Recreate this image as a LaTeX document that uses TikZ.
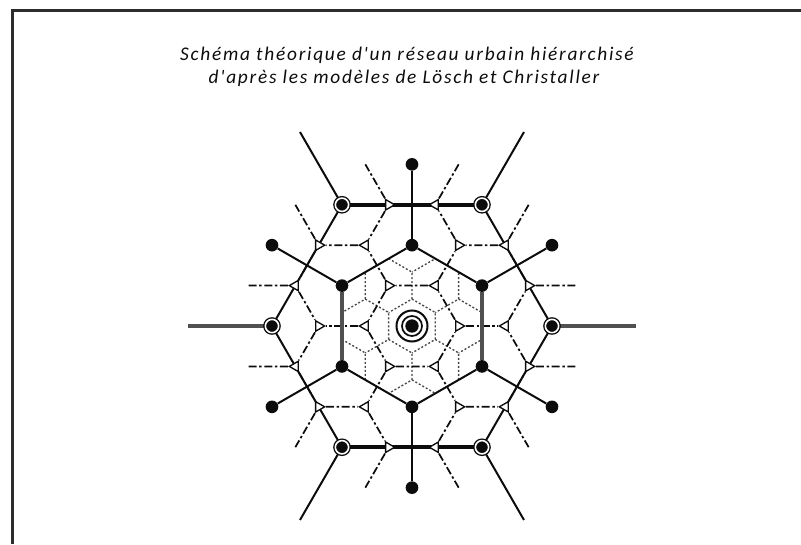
\documentclass[tikz,border=0pt]{standalone}
\usepackage{fontspec}
\setmainfont{Carlito}
\newfontfamily\titlefont[LetterSpace=9]{Carlito}
\usetikzlibrary{shapes.geometric,backgrounds}
\definecolor{Ink}{RGB}{12,12,12}
\definecolor{Frame}{RGB}{45,45,45}
\definecolor{Dim}{RGB}{80,80,80}
\definecolor{Faint}{RGB}{70,70,70}
\tikzset{
  road/.style={draw=Ink,line width=1.5pt},
  mainroad/.style={draw=Ink,line width=3.2pt},
  grayroad/.style={draw=Dim,line width=2.6pt},
  limit/.style={draw=Ink,line width=1.3pt,dash pattern=on 6pt off 2pt on 1.8pt off 2pt},
  mesh/.style={draw=Faint,line width=1pt,dash pattern=on 1.5pt off 1.5pt},
  hub/.style={circle,fill=Ink,inner sep=0pt,minimum size=10pt},
  town/.style={circle,draw=Ink,fill=Ink,double=white,double distance=1.2pt,line width=1pt,inner sep=0pt,minimum size=10pt},
  village/.style={circle,fill=Ink,inner sep=0pt,minimum size=9.5pt},
  hamlet/.style={regular polygon,regular polygon sides=3,draw=Ink,fill=white,line width=1pt,inner sep=0pt,minimum size=9pt},
  heading/.style={font=\titlefont\itshape\fontsize{14.5}{17}\selectfont,text=Ink}
}
\begin{document}
\begin{tikzpicture}[x=0.75pt,y=0.75pt]
  \useasboundingbox (-412,-218) rectangle (389,326);
  \draw[draw=Frame,line width=1.6pt] (389,315.5) -- (-399.5,315.5) -- (-399.5,-218);
  \node[heading] (line1) at (-5,271) {Schéma théorique d'un réseau urbain hiérarchisé};
  \node[heading] (line2) at (-8,248) {d'après les modèles de Lösch et Christaller};
  \node[hub] (hub) at (0,0) {};
  \foreach \k in {0,...,5}{
    \node[town] (town\k) at (60*\k:140) {};
    \node[village] (vin\k) at (60*\k+30:80.83) {};
    \node[village] (vout\k) at (60*\k+30:161.66) {};
    \node[hamlet,rotate=60*\k-90] (ha\k) at (60*\k:46.67) {};
    \node[hamlet,rotate=60*\k+90] (hb\k) at (60*\k:93.33) {};
    \node[hamlet,rotate=60*\k-90] (hc\k) at (60*\k+19.107:123.47) {};
    \node[hamlet,rotate=60*\k+90] (hd\k) at (60*\k+40.893:123.47) {};
    \coordinate (ec\k) at (60*\k+13.898:168.27);
    \coordinate (ed\k) at (60*\k+46.102:168.27);
    \coordinate (ray\k) at (60*\k:224);
  }
  \begin{scope}[on background layer]
    \begin{scope}
      \clip (30:80.83) -- (90:80.83) -- (150:80.83) -- (210:80.83) -- (270:80.83) -- (330:80.83) -- cycle;
      \foreach \i in {-3,...,3}
        \foreach \j in {-3,...,3}
          \draw[mesh] (\i*46.667+\j*23.333,\j*40.415) ++(-30:26.94) -- ++(0,26.94) -- ++(150:26.94) -- ++(210:26.94);
    \end{scope}
    \foreach \k/\n in {0/1,1/2,2/3,3/4,4/5,5/0}{
      \draw[limit] (ha\k) -- (ha\n);
      \draw[limit] (ha\k) -- (hb\k);
      \draw[limit] (hb\k) -- (hc\k) -- (hd\k) -- (hb\n);
      \draw[limit] (hc\k) -- (ec\k);
      \draw[limit] (hd\k) -- (ed\k);
    }
    \foreach \k/\n/\rim/\inner/\out in {0/1/road/road/grayroad,1/2/mainroad/road/road,2/3/road/grayroad/road,3/4/road/road/grayroad,4/5/mainroad/road/road,5/0/road/grayroad/road}{
      \draw[\rim] (town\k) -- (town\n);
      \draw[\inner] (vin\k) -- (vin\n);
      \draw[road] (vin\k) -- (vout\k);
      \draw[\out] (town\k) -- (ray\k);
    }
    \draw[road,line width=1.3pt] (hub) circle[radius=10];
    \draw[road,line width=1.5pt] (hub) circle[radius=15.5];
  \end{scope}
\end{tikzpicture}
\end{document}
